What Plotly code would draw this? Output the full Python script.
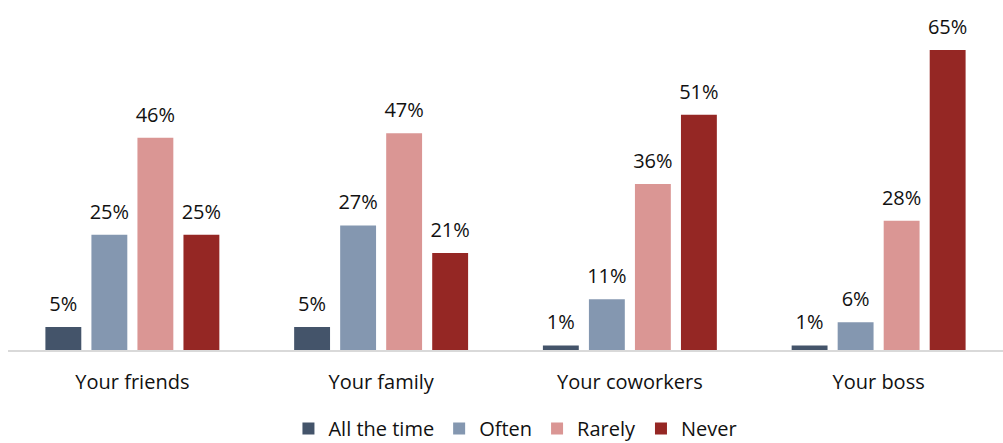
import plotly.graph_objects as go

categories = ["Your friends", "Your family", "Your coworkers", "Your boss"]
series_names = ["All the time", "Often", "Rarely", "Never"]
all_the_time = [5, 5, 1, 1]
often = [25, 27, 11, 6]
rarely = [46, 47, 36, 28]
never = [25, 21, 51, 65]
colors = ["#44546A", "#8497B0", "#DA9694", "#952724"]

FONT = "Open Sans, sans-serif"

fig = go.Figure()
series = [all_the_time, often, rarely, never]
for name, vals, col in zip(series_names, series, colors):
    fig.add_trace(go.Bar(
        x=categories, y=vals, name=name,
        marker=dict(color=col, line=dict(width=0)),
        hoverinfo="skip",
    ))

# value labels, grouped the same way as the bars
for name, vals in zip(series_names, series):
    fig.add_trace(go.Scatter(
        x=categories, y=vals, mode="markers+text",
        text=[f"{v}%" for v in vals], textposition="top center",
        textfont=dict(size=20, color="#111111", family=FONT),
        marker=dict(size=16, opacity=0),
        showlegend=False, cliponaxis=False, hoverinfo="skip",
    ))

fig.update_layout(
    width=1003, height=443,
    margin=dict(l=8, r=0, t=27, b=93, autoexpand=False),
    barmode="group", bargap=0.26, bargroupgap=0.22,
    scattermode="group", scattergap=0.26,
    plot_bgcolor="white", paper_bgcolor="white",
    font=dict(family=FONT, size=20, color="#111111"),
    showlegend=True,
    legend=dict(orientation="h", x=0.51, xanchor="center", y=-0.243, yanchor="middle",
                font=dict(size=20), traceorder="normal"),
)
fig.update_xaxes(showline=True, linecolor="#D9D9D9", linewidth=2, ticks="",
                 tickfont=dict(size=20), showgrid=False, automargin=False,
                 ticklabelstandoff=13)
fig.update_yaxes(range=[0, 70], visible=False, showgrid=False, automargin=False)

fig.write_html("out.html")
